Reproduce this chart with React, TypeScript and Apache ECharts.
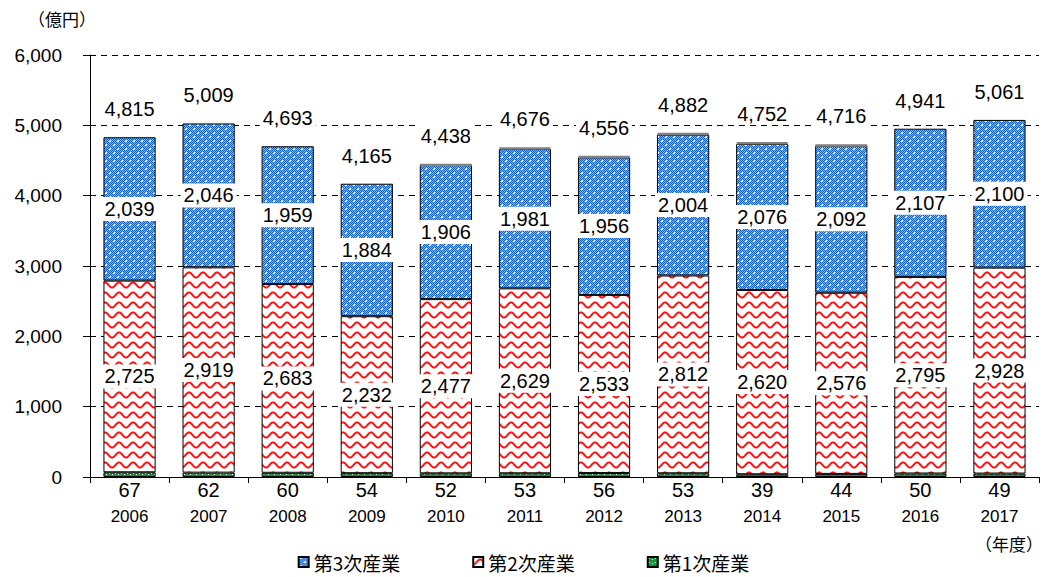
import React, { useEffect, useRef } from "react";
import * as echarts from "echarts";

const years = ["2006", "2007", "2008", "2009", "2010", "2011", "2012", "2013", "2014", "2015", "2016", "2017"];
const primary = [67, 62, 60, 54, 52, 53, 56, 53, 39, 44, 50, 49];
const secondary = [2725, 2919, 2683, 2232, 2477, 2629, 2533, 2812, 2620, 2576, 2795, 2928];
const tertiary = [2039, 2046, 1959, 1884, 1906, 1981, 1956, 2004, 2076, 2092, 2107, 2100];
const other = [0, 0, 0, 0, 3, 13, 11, 13, 17, 4, 0, 0];
const totals = [4815, 5009, 4693, 4165, 4438, 4676, 4556, 4882, 4752, 4716, 4941, 5061];

const NUM_FONT = "'Liberation Sans', Arial, sans-serif";
const JP_FONT = "'Noto Sans CJK JP', sans-serif";

function makeBlue() {
  const c = document.createElement("canvas");
  c.width = 8; c.height = 8;
  const g = c.getContext("2d")!;
  for (let x = 0; x < 8; x++) for (let y = 0; y < 8; y++) {
    g.fillStyle = (x + y) % 2 === 0 ? "#1565c0" : "#7fb4e6";
    g.fillRect(x, y, 1, 1);
  }
  g.fillStyle = "#ffffff";
  g.fillRect(1, 1, 2, 1); g.fillRect(2, 0, 1, 2);
  g.fillRect(5, 5, 2, 1); g.fillRect(6, 4, 1, 2);
  return c;
}
function makeRed() {
  const c = document.createElement("canvas");
  c.width = 14; c.height = 10;
  const g = c.getContext("2d")!;
  g.fillStyle = "#ffffff"; g.fillRect(0, 0, 14, 10);
  g.strokeStyle = "#ff1010"; g.lineWidth = 2;
  g.beginPath();
  for (let x = -1; x <= 15; x += 0.5) {
    const y = 5 + 2.6 * Math.cos((2 * Math.PI * x) / 14);
    if (x === -1) g.moveTo(x, y); else g.lineTo(x, y);
  }
  g.stroke();
  return c;
}
function makeGreen() {
  const c = document.createElement("canvas");
  c.width = 6; c.height = 4;
  const g = c.getContext("2d")!;
  g.fillStyle = "#18963c"; g.fillRect(0, 0, 6, 4);
  g.fillStyle = "#ffffff"; g.fillRect(1, 1, 1, 1); g.fillRect(4, 2, 1, 1);
  return c;
}

export default function App() {
  const ref = useRef<HTMLDivElement>(null);
  useEffect(() => {
    if (!ref.current) return;
    const chart = echarts.init(ref.current, null, { renderer: "svg" });
    const blue = { image: makeBlue(), repeat: "repeat" };
    const red = { image: makeRed(), repeat: "repeat" };
    const green = { image: makeGreen(), repeat: "repeat" };
    const fmt = (v: number) => v.toLocaleString("en-US");
    const segLabel = {
      show: true,
      position: "inside",
      fontFamily: NUM_FONT,
      fontSize: 20,
      color: "#000",
      opacity: 1,
      backgroundColor: "#fff",
      padding: [3, 3, 1, 3],
      formatter: (p: any) => fmt(p.value),
    };
    chart.setOption({
      animation: false,
      grid: { left: 90, right: 8, top: 55, bottom: 100 },
      legend: {
        data: ["第3次産業", "第2次産業", "第1次産業"],
        top: 552,
        left: "center",
        padding: 0,
        itemWidth: 10,
        itemHeight: 10,
        itemGap: 72,
        icon: "rect",
        textStyle: { fontFamily: JP_FONT, fontSize: 19, color: "#000", lineHeight: 20 },
      },
      xAxis: {
        type: "category",
        data: years,
        axisLine: { lineStyle: { color: "#000", width: 1 } },
        axisTick: { show: true, length: 6, lineStyle: { color: "#000" } },
        axisLabel: { margin: 31, fontFamily: NUM_FONT, fontSize: 17, color: "#000" },
      },
      yAxis: {
        type: "value",
        min: 0,
        max: 6000,
        interval: 1000,
        axisLine: { show: true, lineStyle: { color: "#000" } },
        axisTick: { show: true, length: 7, lineStyle: { color: "#000" } },
        axisLabel: { margin: 28, fontFamily: NUM_FONT, fontSize: 19, color: "#000", formatter: (v: number) => fmt(v) },
        splitLine: { show: true, lineStyle: { color: "#000", type: [6, 5], width: 1 } },
      },
      graphic: [
        { type: "text", left: 28, top: 10, style: { text: "（億円）", font: `17px ${JP_FONT}`, fill: "#000" } },
        { type: "text", right: 4, top: 535, style: { text: "（年度）", font: `17px ${JP_FONT}`, fill: "#000" } },
      ],
      series: [
        {
          name: "第1次産業",
          type: "bar",
          stack: "total",
          barWidth: "66%",
          data: primary,
          itemStyle: { color: green, borderColor: "#000", borderWidth: 1 },
          label: { ...segLabel, position: "bottom", distance: 0, backgroundColor: "transparent" },
        },
        {
          name: "第2次産業",
          type: "bar",
          stack: "total",
          data: secondary,
          itemStyle: { color: red, borderColor: "#000", borderWidth: 1 },
          label: segLabel,
        },
        {
          name: "第3次産業",
          type: "bar",
          stack: "total",
          data: tertiary,
          itemStyle: { color: blue, borderColor: "#000", borderWidth: 1 },
          label: segLabel,
        },
        {
          name: "その他",
          type: "bar",
          stack: "total",
          data: other.map((v) => ({ value: v, itemStyle: v > 0 ? {} : { borderWidth: 0, opacity: 0 } })),
          itemStyle: { color: "#808080", borderColor: "#808080", borderWidth: 2.5 },
          label: {
            ...segLabel,
            position: "top",
            distance: 17,
            formatter: (p: any) => fmt(totals[p.dataIndex]),
          },
        },
      ],
    });
    return () => chart.dispose();
  }, []);
  return <div ref={ref} style={{ position: "absolute", left: 0, top: 0, width: 1047, height: 577 }} />;
}
